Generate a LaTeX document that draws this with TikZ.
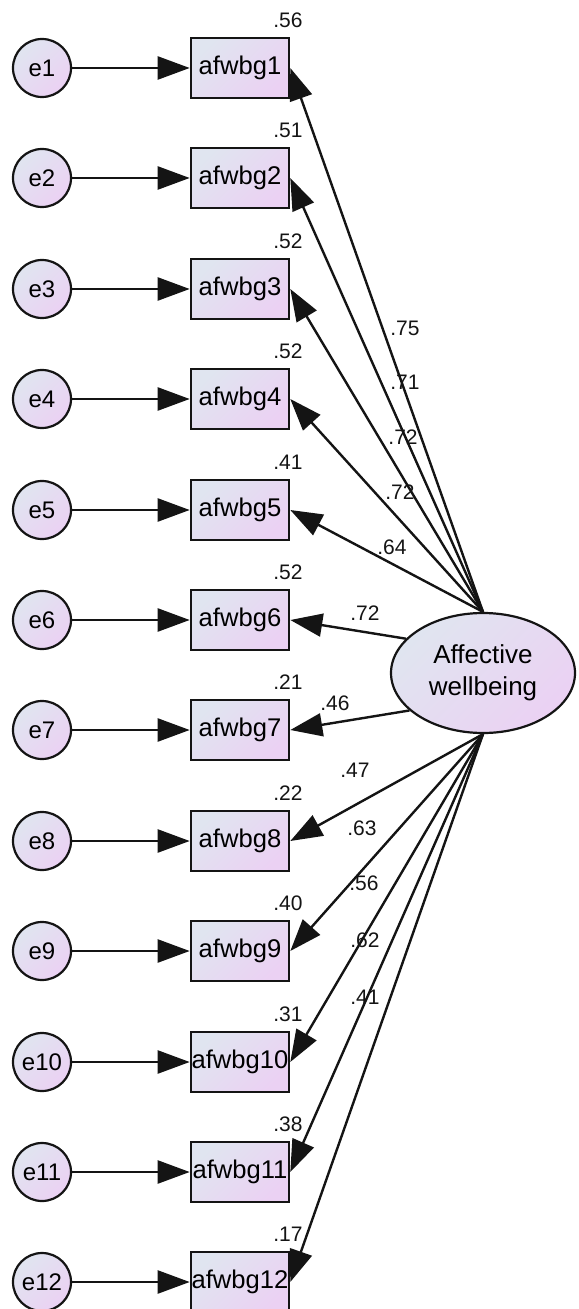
\documentclass[tikz,border=0pt]{standalone}
\usepackage{fontspec}
\setsansfont{Liberation Sans}
\usepackage{tikz}
\usetikzlibrary{arrows.meta,shapes.geometric}
\definecolor{fillcool}{RGB}{224,229,240}
\definecolor{fillwarm}{RGB}{235,209,243}
\definecolor{inkline}{RGB}{20,20,20}
\tikzset{
  errnode/.style={circle, draw=inkline, line width=1.1pt, minimum size=29pt,
                  inner sep=0pt, top color=fillcool, bottom color=fillwarm,
                  shading angle=45, font=\sffamily\fontsize{12}{14}\selectfont},
  obsbox/.style={rectangle, draw=inkline, line width=1.3pt, minimum width=49pt,
                 minimum height=30pt, inner sep=0pt, top color=fillcool,
                 bottom color=fillwarm, shading angle=45,
                 font=\sffamily\fontsize{12.8}{15}\selectfont},
  latent/.style={ellipse, draw=inkline, line width=1.1pt, minimum width=92pt,
                 minimum height=60pt, inner sep=0pt, align=center,
                 top color=fillcool, bottom color=fillwarm, shading angle=45,
                 font=\sffamily\fontsize{13}{16}\selectfont},
  arr/.style={-{Triangle[length=16pt,width=11.5pt]}, line width=1.2pt, draw=inkline},
  coef/.style={font=\sffamily\fontsize{10.5}{12}\selectfont, inner sep=0pt,
               text=inkline},
}
\begin{document}
\begin{tikzpicture}[x=0.5pt, y=-0.5pt]
  \useasboundingbox (0,0) rectangle (578,1309);
  \node[latent] (aw) at (483,673) {Affective\\wellbeing};

  \node[errnode] (e1)  at (42,68)   {e1};
  \node[errnode] (e2)  at (42,178)  {e2};
  \node[errnode] (e3)  at (42,289)  {e3};
  \node[errnode] (e4)  at (42,399)  {e4};
  \node[errnode] (e5)  at (42,510)  {e5};
  \node[errnode] (e6)  at (42,620)  {e6};
  \node[errnode] (e7)  at (42,730)  {e7};
  \node[errnode] (e8)  at (42,841)  {e8};
  \node[errnode] (e9)  at (42,951)  {e9};
  \node[errnode] (e10) at (42,1062) {e10};
  \node[errnode] (e11) at (42,1172) {e11};
  \node[errnode] (e12) at (42,1282) {e12};

  \node[obsbox] (v1)  at (240,68)   {afwbg1};
  \node[obsbox] (v2)  at (240,178)  {afwbg2};
  \node[obsbox] (v3)  at (240,289)  {afwbg3};
  \node[obsbox] (v4)  at (240,399)  {afwbg4};
  \node[obsbox] (v5)  at (240,510)  {afwbg5};
  \node[obsbox] (v6)  at (240,620)  {afwbg6};
  \node[obsbox] (v7)  at (240,730)  {afwbg7};
  \node[obsbox] (v8)  at (240,841)  {afwbg8};
  \node[obsbox] (v9)  at (240,951)  {afwbg9};
  \node[obsbox] (v10) at (240,1062) {afwbg10};
  \node[obsbox] (v11) at (240,1172) {afwbg11};
  \node[obsbox] (v12) at (240,1282) {afwbg12};

  \draw[arr] (e1) -- (v1);
  \draw[arr] (e2) -- (v2);
  \draw[arr] (e3) -- (v3);
  \draw[arr] (e4) -- (v4);
  \draw[arr] (e5) -- (v5);
  \draw[arr] (e6) -- (v6);
  \draw[arr] (e7) -- (v7);
  \draw[arr] (e8) -- (v8);
  \draw[arr] (e9) -- (v9);
  \draw[arr] (e10) -- (v10);
  \draw[arr] (e11) -- (v11);
  \draw[arr] (e12) -- (v12);

  \draw[arr] (aw.north) -- (v1.east);
  \draw[arr] (aw.north) -- (v2.east);
  \draw[arr] (aw.north) -- (v3.east);
  \draw[arr] (aw.north) -- (v4.east);
  \draw[arr] (aw.north) -- (v5.east);
  \draw[arr] (aw.156) -- (v6.east);
  \draw[arr] (aw.207) -- (v7.east);
  \draw[arr] (aw.south) -- (v8.east);
  \draw[arr] (aw.south) -- (v9.east);
  \draw[arr] (aw.south) -- (v10.east);
  \draw[arr] (aw.south) -- (v11.east);
  \draw[arr] (aw.south) -- (v12.east);

  \node[coef] (r1)  at (288,20)   {.56};
  \node[coef] (r2)  at (288,130)  {.51};
  \node[coef] (r3)  at (288,241)  {.52};
  \node[coef] (r4)  at (288,351)  {.52};
  \node[coef] (r5)  at (288,462)  {.41};
  \node[coef] (r6)  at (288,572)  {.52};
  \node[coef] (r7)  at (288,682)  {.21};
  \node[coef] (r8)  at (288,793)  {.22};
  \node[coef] (r9)  at (288,903)  {.40};
  \node[coef] (r10) at (288,1014) {.31};
  \node[coef] (r11) at (288,1124) {.38};
  \node[coef] (r12) at (288,1234) {.17};

  \node[coef] (w1)  at (405,328) {.75};
  \node[coef] (w2)  at (405,382) {.71};
  \node[coef] (w3)  at (403,437) {.72};
  \node[coef] (w4)  at (400,492) {.72};
  \node[coef] (w5)  at (392,547) {.64};
  \node[coef] (w6)  at (365,613) {.72};
  \node[coef] (w7)  at (335,703) {.46};
  \node[coef] (w8)  at (355,770) {.47};
  \node[coef] (w9)  at (362,828) {.63};
  \node[coef] (w10) at (364,883) {.56};
  \node[coef] (w11) at (365,940) {.62};
  \node[coef] (w12) at (365,997) {.41};
\end{tikzpicture}
\end{document}
